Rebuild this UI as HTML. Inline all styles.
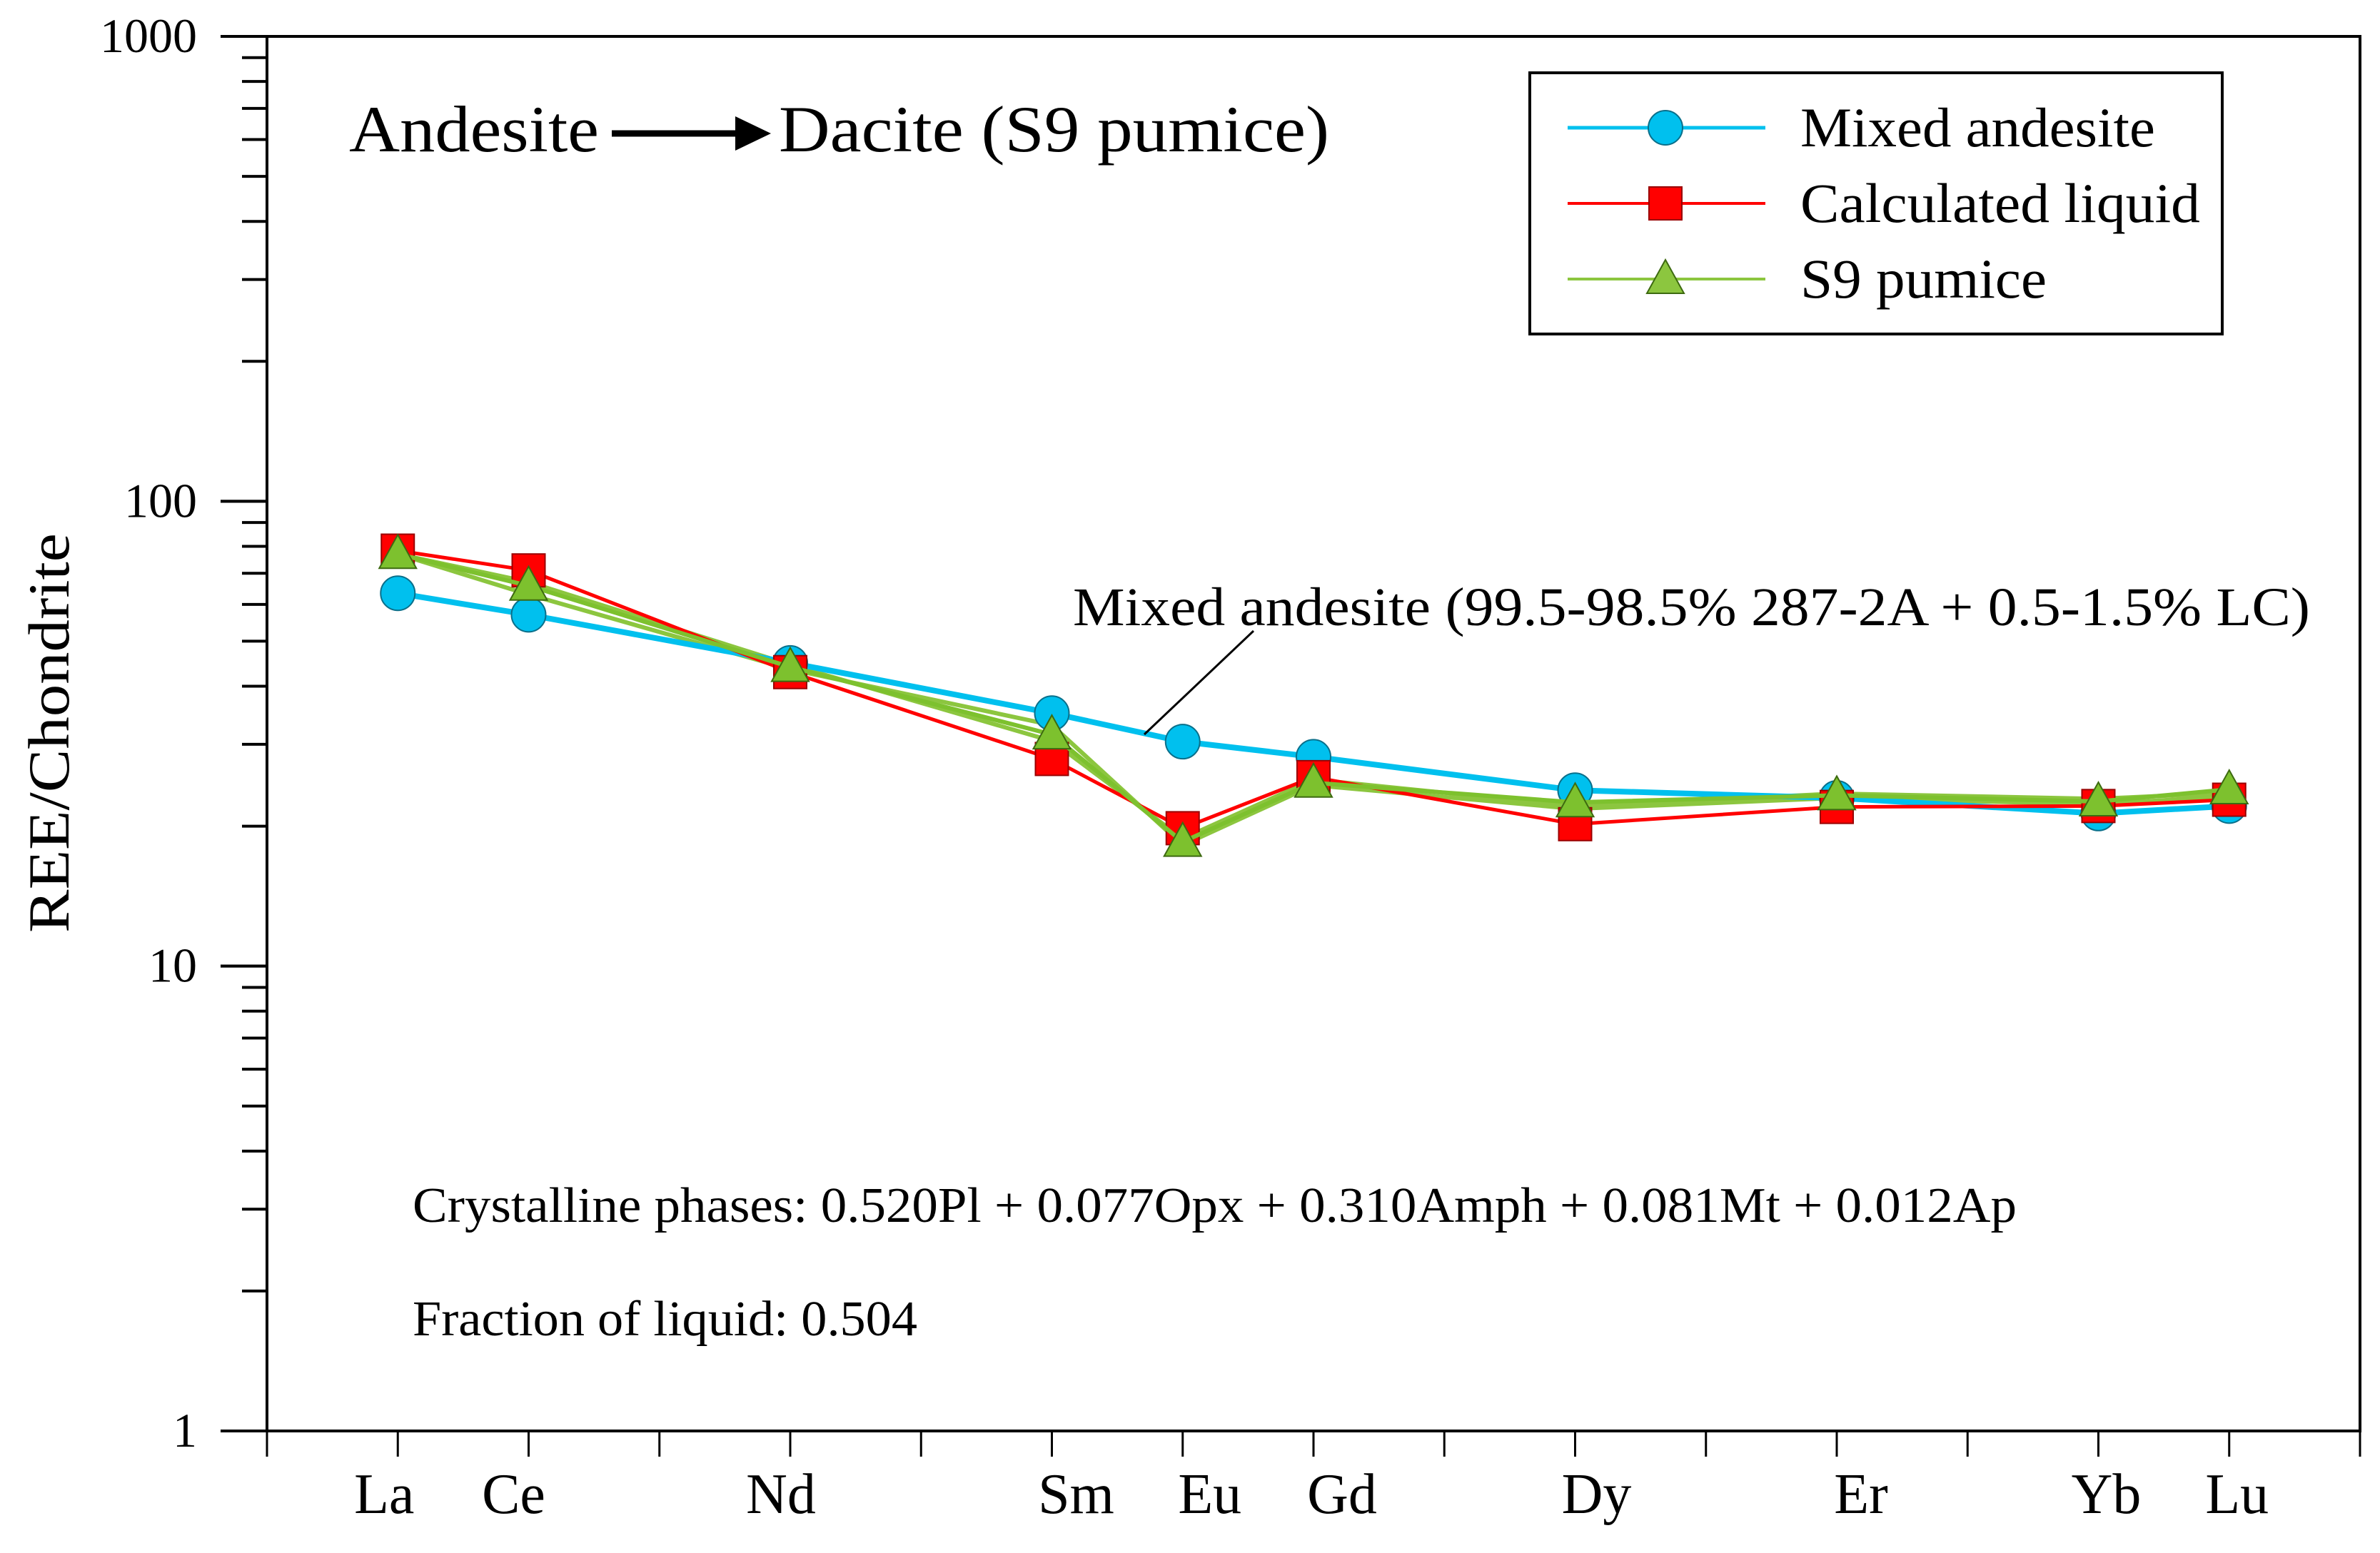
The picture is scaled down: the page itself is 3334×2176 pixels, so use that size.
<!DOCTYPE html>
<html><head><meta charset="utf-8"><style>
html,body{margin:0;padding:0;background:#fff;}
svg text{font-family:"Liberation Serif",serif;fill:#000;}
</style></head><body>
<svg id="chart" width="3334" height="2171" viewBox="0 0 3334 2171" xmlns="http://www.w3.org/2000/svg" font-family="Liberation Serif, serif">
<g id="axes"></g>
<g id="series"></g>
<text x="489" y="212" font-size="92" font-family="Liberation Serif, serif" textLength="350" lengthAdjust="spacingAndGlyphs">Andesite</text>
<g>
<line x1="857" y1="187" x2="1045" y2="187" stroke="#000" stroke-width="9"/>
<polygon points="1030,163 1080,187 1030,211" fill="#000"/>
</g>
<text x="1091" y="212" font-size="92" font-family="Liberation Serif, serif" textLength="771" lengthAdjust="spacingAndGlyphs">Dacite (S9 pumice)</text>
<text x="1503" y="876" font-size="76" font-family="Liberation Serif, serif" textLength="1733" lengthAdjust="spacingAndGlyphs">Mixed andesite (99.5-98.5% 287-2A + 0.5-1.5% LC)</text>
<line x1="1756" y1="884" x2="1603" y2="1029" stroke="#000" stroke-width="3"/>
<text x="578" y="1712" font-size="70" font-family="Liberation Serif, serif" textLength="2247" lengthAdjust="spacingAndGlyphs">Crystalline phases:  0.520Pl + 0.077Opx + 0.310Amph + 0.081Mt + 0.012Ap</text>
<text x="578" y="1871" font-size="70" font-family="Liberation Serif, serif" textLength="707" lengthAdjust="spacingAndGlyphs">Fraction of liquid: 0.504</text>
<text transform="translate(96,1027) rotate(-90)" text-anchor="middle" font-size="82" font-family="Liberation Serif, serif" textLength="560" lengthAdjust="spacingAndGlyphs">REE/Chondrite</text>
<g id="legend">
<rect x="2143" y="102" width="970" height="366" fill="#fff" stroke="#000" stroke-width="4"/>
</g>
</svg>
<script>
const categories = ["La","Ce","Nd","Sm","Eu","Gd","Dy","Er","Yb","Lu"];
const catIndex = [1,2,4,6,7,8,10,12,14,15];
const mixedAndesite = [63.4,57,44.9,35,30.4,28.2,23.9,23,21.3,22.1];
const calculatedLiquid = [78.3,71,42.9,27.9,19.8,25.5,20.2,22,22.1,22.8];
const s9Pumice = [77,65.8,44,31.5,18.5,24.8,22.5,23.3,22.6,24];
const s9PumiceB = [77,63,43.5,33,18.2,24.5,21.8,23,22.3,23.2];
const s9PumiceC = [77,67,44.5,30.5,18.8,25.2,22.1,23.5,22.9,23.6];
const yTickLabels = ["1","10","100","1000"];
const yTickValues = [1,10,100,1000];

const L=374,R=3306,T=51,B=2005,NX=16;
const labelShift=[-19,-21,-13,34,38,40,30,34,11,11];
const NS="http://www.w3.org/2000/svg";
const FF="Liberation Serif, serif";
function xs(i){return L+(R-L)*i/NX;}
function ys(v){return B-(B-T)*Math.log10(v)/3;}
function mk(tag,attrs,parent){const e=document.createElementNS(NS,tag);for(const k in attrs)e.setAttribute(k,attrs[k]);parent.appendChild(e);return e;}
const axes=document.getElementById('axes'), ser=document.getElementById('series'), leg=document.getElementById('legend');

let fr=mk('rect',{x:L,y:T,width:R-L,height:B-T,fill:'none',stroke:'#000','stroke-width':4},axes);


for(let d=0;d<3;d++){for(let m=1;m<=10;m++){const v=Math.pow(10,d)*m;const y=ys(v);const len=(m===1||m===10)?65:35;
 const t=mk('line',{x1:L-len,y1:y,x2:L,y2:y,stroke:'#000','stroke-width':4},axes);
 
 }}
yTickValues.forEach((v,i)=>{const t=mk('text',{x:276,y:ys(v)+22,'text-anchor':'end','font-size':68,'font-family':FF},axes);t.textContent=yTickLabels[i];
 
 });
for(let i=0;i<=NX;i++){const t=mk('line',{x1:xs(i),y1:B,x2:xs(i),y2:B+36,stroke:'#000','stroke-width':3},axes);
 
 }
categories.forEach((c,i)=>{const t=mk('text',{x:xs(catIndex[i])+labelShift[i],y:2120,'text-anchor':'middle','font-size':80,'font-family':FF},axes);t.textContent=c;
 
 });

function marker(type,x,y,col,parent){let e;
 if(type==='circle')e=mk('circle',{cx:x,cy:y,r:24,fill:col,stroke:'#0a6f8a','stroke-width':2},parent);
 else if(type==='square')e=mk('rect',{x:x-23,y:y-23,width:46,height:46,fill:col,stroke:'#900','stroke-width':2},parent);
 else e=mk('polygon',{points:`${x},${y-27} ${x+26},${y+20} ${x-26},${y+20}`,fill:col,stroke:'#3d6a10','stroke-width':2},parent);
 return e;}
function series(vals,col,w,type,name){const g=mk('g',{},ser);
 
 
 const pts=vals.map((v,i)=>xs(catIndex[i])+','+ys(v)).join(' ');
 mk('polyline',{points:pts,fill:'none',stroke:col,'stroke-width':w,'stroke-linejoin':'round'},g);
 if(type)vals.forEach((v,i)=>{const m=marker(type,xs(catIndex[i]),ys(v),col,g);
  
  });}
series(s9PumiceB,'#8cc63f',6,null,'s9-pumice-variant-b');
series(s9PumiceC,'#8cc63f',6,null,'s9-pumice-variant-c');
series(mixedAndesite,'#00c0ee',8,'circle','mixed-andesite-series');
series(calculatedLiquid,'#ff0000',5,'square','calculated-liquid-series');
series(s9Pumice,'#7dc12e',6,'triangle','s9-pumice-series');

const legItems=[["Mixed andesite",'#00c0ee','circle',5],["Calculated liquid",'#ff0000','square',4],["S9 pumice",'#8cc63f','triangle',4]];
const legWidths=[497,560,345];
legItems.forEach((it,i)=>{const y=179+i*106;const g=mk('g',{},leg);
 
 
 mk('line',{x1:2196,y1:y,x2:2473,y2:y,stroke:it[1],'stroke-width':it[3]},g);
 marker(it[2],2333,y,it[1],g);
 const t=mk('text',{x:2522,y:y+26,'font-size':78,'font-family':FF,textLength:legWidths[i],lengthAdjust:'spacingAndGlyphs'},g);t.textContent=it[0];});
</script>
</body></html>
